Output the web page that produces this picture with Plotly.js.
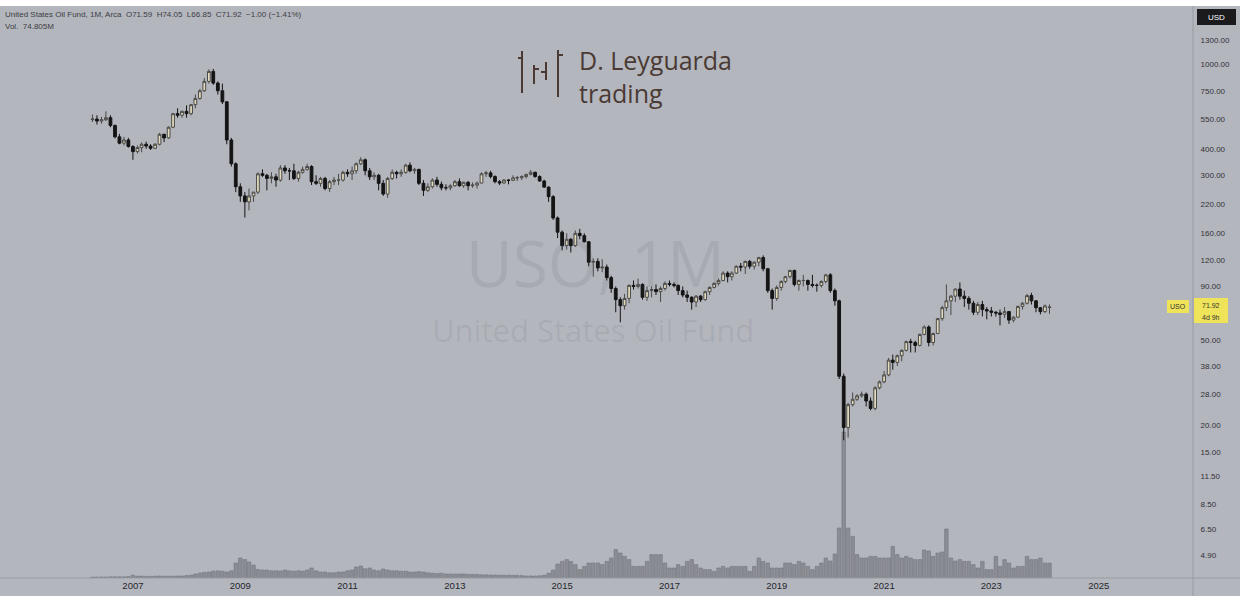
<!DOCTYPE html>
<html><head><meta charset="utf-8">
<script src="https://cdn.plot.ly/plotly-3.0.1.min.js"></script>
<style>html,body{margin:0;padding:0;background:#b4b6be;}#chart{width:1240px;height:596px;}</style>
</head><body><div id="chart"></div>
<script>
// Monthly candles, USO (split-adjusted), Apr 2006 .. Feb 2024
const startYear = 2006, startMonth = 4;
const openP = [
 548,552,540,548,560,515,455,425,440,
 410,388,405,420,412,402,420,468,450,505,585,575,
 600,585,645,690,750,830,925,815,750,665,440,340,
 265,240,225,240,250,305,300,290,295,285,325,315,
 315,290,310,320,330,280,275,290,260,280,285,285,
 310,305,315,340,355,315,295,300,275,245,290,310,
 305,310,335,315,320,275,255,265,285,272,262,262,
 268,280,268,278,268,270,276,305,308,296,280,276,
 285,284,292,292,296,303,310,296,282,264,238,189,
 162,140,150,140,160,156,146,117,118,110,111,99,
 88,78,73,79,91,90,92,80,86,87,85,88,
 93,92,91,86,82,80,76,81,78,85,89,93,
 96,104,100,104,112,111,118,112,117,123,109,86,
 79,89,95,100,107,92,96,96,92,91,91,95,
 102,86,77,34,19.5,25,26.5,27.5,28,26,24,30,
 32,34.5,40.5,39.5,42.5,45,49.5,49,47.5,53.5,58,49,
 54,63.5,71.5,77,81,87.5,81,79,75,68,74,70,
 69,68,67.5,66.5,68.5,62.5,64.5,72.5,75,81.5,77,71.5,
 68.5,71.59];
const highP = [
 580,575,565,600,575,520,470,455,450,
 415,415,428,432,420,425,475,470,510,590,620,605,
 640,650,720,765,860,945,950,830,810,670,450,345,
 275,250,260,250,310,320,305,310,305,335,335,325,
 340,315,330,340,335,300,295,295,285,295,305,315,
 320,330,345,365,360,325,310,305,285,295,320,315,
 320,340,345,325,322,285,275,290,295,280,272,272,
 285,290,280,282,278,280,310,315,315,300,285,288,
 288,300,298,300,305,318,312,300,286,266,242,192,
 165,160,152,165,168,160,147,122,122,121,114,101,
 90,80,83,92,96,98,93,90,90,92,90,95,
 96,94,92,90,86,81,82,82,86,90,94,98,
 106,106,106,113,116,119,120,118,124,126,110,88,
 91,96,101,108,108,97,102,97,102,93,96,103,
 104,88,78,35,25.5,28.5,28,28.8,28.5,27,30.5,32.5,
 36,41.5,43,43,45.5,50,51,50,54,59,59,54.5,
 64,73,92,82,88,94,86,81,77,76,77,72,
 72,69,70,72,69,65,73,76,83,84,77.5,72,
 74,74.05];
const lowP = [
 535,520,525,540,505,448,420,415,405,
 355,380,385,400,395,398,415,430,445,500,560,560,
 560,575,620,680,740,810,800,720,650,420,330,250,
 225,190,205,225,245,295,255,275,265,280,305,285,
 285,280,305,315,270,270,265,255,250,270,270,280,
 295,285,305,335,300,285,285,255,240,235,285,290,
 295,305,310,305,270,240,250,260,265,255,255,255,
 265,265,262,255,262,260,275,295,290,275,270,274,
 272,282,282,285,290,300,292,280,262,225,185,152,
 133,134,130,138,150,145,112,100,106,105,96,84,
 68,61,70,75,87,88,78,77,80,82,76,86,
 90,89,82,80,76,70,72,76,77,82,88,91,
 95,94,96,103,106,103,109,108,112,106,84,70,
 77,86,93,98,90,86,90,86,89,85,89,93,
 84,73,33,17,17.5,24.5,26,27,24.5,23.5,23.5,29.5,
 31.5,34,36.5,38,40,44.5,44,44,47,53,47,47.5,
 54,62,69,66,76,78,72,70,66,66,65,63,
 65,65,59,64,60,61,64,70,74,74,68,66.5,
 67.5,66.85];
const closeP = [
 552,540,548,560,515,455,425,440,410,
 388,405,420,412,402,420,468,450,505,585,575,600,
 585,645,690,750,830,925,815,750,665,440,340,265,
 240,225,240,250,305,300,290,295,285,325,315,315,
 290,310,320,330,280,275,290,260,280,285,285,310,
 305,315,340,355,315,295,300,275,245,290,310,305,
 310,335,315,320,275,255,265,285,272,262,262,268,
 280,268,278,268,270,276,305,308,296,280,276,285,
 284,292,292,296,303,310,296,282,264,238,189,162,
 140,150,140,160,156,146,117,118,110,111,99,88,
 78,73,79,91,90,92,80,86,87,85,88,93,
 92,91,86,82,80,76,81,78,85,89,93,96,
 104,100,104,112,111,118,112,117,123,109,86,79,
 89,95,100,107,92,96,96,92,91,91,95,102,
 86,77,34,19.5,25,26.5,27.5,28,26,24,30,32,
 34.5,40.5,39.5,42.5,45,49.5,49,47.5,53.5,58,49,54,
 63.5,71.5,77,81,87.5,81,79,75,68,74,70,69,
 68,67.5,66.5,68.5,62.5,64.5,72.5,75,81.5,77,71.5,68.5,
 72.9,71.92];
// volume, millions of shares
const volumeM = [
 4,5,5,5,6,6,6,6,7,
 14,9,9,8,8,9,10,9,9,9,10,10,
 12,14,20,25,28,30,34,36,34,30,36,75,
 100,92,80,65,42,40,40,36,36,35,40,36,
 34,36,34,40,50,36,30,30,26,26,30,30,
 36,40,55,60,46,50,40,36,45,40,36,36,
 34,34,30,30,32,30,26,24,22,24,20,20,
 20,20,20,18,18,18,16,16,15,15,14,14,
 14,13,13,12,10,10,10,11,14,24,40,70,
 83,92,83,67,42,58,75,75,75,67,83,100,
 142,125,108,92,58,58,58,83,117,117,117,75,
 50,50,67,58,83,92,67,50,42,42,33,50,
 58,50,58,58,58,58,33,58,100,83,75,50,
 50,50,75,75,67,83,75,58,42,58,75,100,
 85,120,250,730,250,208,117,100,100,108,108,100,
 100,100,158,117,100,108,100,92,92,140,135,108,
 125,130,245,100,85,92,83,83,67,50,83,42,
 42,108,58,92,75,50,58,58,108,92,92,100,
 75,74.8];
const yTickVals = [1300,1000,750,550,400,300,220,160,120,90,50,38,28,20,15,11.5,8.5,6.5,4.9];
const yTickText = ['1300.00','1000.00','750.00','550.00','400.00','300.00','220.00','160.00','120.00','90.00','50.00','38.00','28.00','20.00','15.00','11.50','8.50','6.50','4.90'];
const xTickYears = ['2007','2009','2011','2013','2015','2017','2019','2021','2023','2025'];
const lastPrice = '71.92', countdown = '4d 9h', ticker = 'USO';

const dates = openP.map((_, i) => {
  const m = startMonth - 1 + i;
  const y = startYear + Math.floor(m / 12);
  return y + '-' + String(m % 12 + 1).padStart(2, '0') + '-01';
});

// pixel -> paper helpers (plot area: x 0..1193, y 6..578)
const PW = 1193, PT = 6, PB = 578;
const PX = x => x / PW;
const PY = y => (PB - y) / (PB - PT);

const BG = '#b4b6be';
const brown = '#4a3a33';

const traces = [
  { type: 'bar', x: dates, y: volumeM, yaxis: 'y', xaxis: 'x',
    marker: { color: '#8b8d94', line: { color: '#74767d', width: 0.6 } },
    width: 24 * 86400000, hoverinfo: 'skip' },
  { type: 'candlestick', x: dates, open: openP, high: highP, low: lowP, close: closeP,
    xaxis: 'x', yaxis: 'y2', whiskerwidth: 0,
    increasing: { line: { color: '#4a4a48', width: 1 }, fillcolor: '#e3dbbd' },
    decreasing: { line: { color: '#141414', width: 1 }, fillcolor: '#141414' } }
];

const shapes = [
  { type: 'rect', xref: 'paper', yref: 'paper', x0: PX(0), x1: PX(1240), y0: PY(6), y1: PY(0), fillcolor: '#ffffff', line: { width: 0 } },
  { type: 'line', xref: 'paper', yref: 'paper', x0: PX(1193), x1: PX(1193), y0: PY(596), y1: PY(6), line: { color: '#9a9ca3', width: 1 } },
  { type: 'line', xref: 'paper', yref: 'paper', x0: PX(0), x1: PX(1240), y0: PY(578), y1: PY(578), line: { color: '#9a9ca3', width: 1 } },
  { type: 'rect', xref: 'paper', yref: 'paper', x0: PX(1197), x1: PX(1236), y0: PY(25), y1: PY(9), fillcolor: '#1b1b1e', line: { width: 0 } },
  { type: 'rect', xref: 'paper', yref: 'paper', x0: PX(1167), x1: PX(1189), y0: PY(313), y1: PY(300), fillcolor: '#efe35a', line: { width: 0 } },
  { type: 'rect', xref: 'paper', yref: 'paper', x0: PX(1194), x1: PX(1228), y0: PY(323), y1: PY(298), fillcolor: '#efe35a', line: { width: 0 } },
  // logo glyph
  { type: 'line', xref: 'paper', yref: 'paper', x0: PX(522), x1: PX(522), y0: PY(93), y1: PY(51), line: { color: brown, width: 2 } },
  { type: 'line', xref: 'paper', yref: 'paper', x0: PX(518), x1: PX(522), y0: PY(58), y1: PY(58), line: { color: brown, width: 2 } },
  { type: 'line', xref: 'paper', yref: 'paper', x0: PX(534), x1: PX(534), y0: PY(84), y1: PY(65), line: { color: brown, width: 2 } },
  { type: 'line', xref: 'paper', yref: 'paper', x0: PX(534), x1: PX(539), y0: PY(69), y1: PY(69), line: { color: brown, width: 2 } },
  { type: 'line', xref: 'paper', yref: 'paper', x0: PX(546), x1: PX(546), y0: PY(80), y1: PY(62), line: { color: brown, width: 2 } },
  { type: 'line', xref: 'paper', yref: 'paper', x0: PX(541), x1: PX(546), y0: PY(72), y1: PY(72), line: { color: brown, width: 2 } },
  { type: 'line', xref: 'paper', yref: 'paper', x0: PX(558), x1: PX(558), y0: PY(97), y1: PY(50), line: { color: brown, width: 2 } },
  { type: 'line', xref: 'paper', yref: 'paper', x0: PX(558), x1: PX(563), y0: PY(55), y1: PY(55), line: { color: brown, width: 2 } }
];

const ann = (x, y, text, size, color, extra) => Object.assign({
  xref: 'paper', yref: 'paper', x: PX(x), y: PY(y), text: text, showarrow: false,
  font: { size: size, color: color, family: 'Liberation Sans, Arial, sans-serif' },
  xanchor: 'left', yanchor: 'middle'
}, extra || {});

const wm = 'rgba(70,72,82,0.10)';
const annotations = [
  ann(3, 15, 'United States Oil Fund, 1M, Arca&nbsp;&nbsp;O71.59&nbsp;&nbsp;H74.05&nbsp;&nbsp;L66.85&nbsp;&nbsp;C71.92&nbsp;&nbsp;−1.00 (−1.41%)', 8, '#3c3d42'),
  ann(3, 27, 'Vol.&nbsp;&nbsp;74.805M', 8, '#3c3d42'),
  ann(1216.5, 17, 'USD', 8, '#ffffff', { xanchor: 'center' }),
  ann(1178, 306.5, ticker, 7, '#333333', { xanchor: 'center' }),
  ann(1211, 305, lastPrice, 7, '#333333', { xanchor: 'center' }),
  ann(1211, 317, countdown, 7, '#333333', { xanchor: 'center' }),
  ann(595, 262, 'USO, 1M', 64, wm, { xanchor: 'center', font: { size: 64, color: wm, family: 'Open Sans, sans-serif' } }),
  ann(593, 330, 'United States Oil Fund', 31, wm, { xanchor: 'center', font: { size: 31, color: wm, family: 'Open Sans, sans-serif' } }),
  ann(577, 76, 'D. Leyguarda<br>trading', 25, brown, { align: 'left', font: { size: 25, color: brown, family: 'Open Sans, sans-serif' } })
];

const layout = {
  width: 1240, height: 596,
  margin: { l: 0, r: 47, t: 6, b: 18, pad: 0 },
  paper_bgcolor: BG, plot_bgcolor: BG,
  showlegend: false,
  boxgap: 0.05,
  font: { family: 'Liberation Sans, Arial, sans-serif', color: '#2c2d31' },
  xaxis: {
    type: 'date', range: ['2004-07-10', '2026-10-05'],
    tickvals: xTickYears.map(y => y + '-01-01'), ticktext: xTickYears,
    showgrid: false, zeroline: false, showline: false, ticks: '',
    tickfont: { size: 9.5, color: '#26272b' },
    rangeslider: { visible: false }
  },
  yaxis: { range: [0, 2860], visible: false, showgrid: false, zeroline: false, fixedrange: true },
  yaxis2: {
    overlaying: 'y', side: 'right', type: 'log',
    range: [0.5821, 3.2739],
    tickvals: yTickVals, ticktext: yTickText,
    showgrid: false, zeroline: false, showline: false,
    ticks: 'outside', ticklen: 5, tickcolor: 'rgba(0,0,0,0)',
    tickfont: { size: 8, color: '#303136' }
  },
  shapes: shapes,
  annotations: annotations
};

Plotly.newPlot('chart', traces, layout, { staticPlot: true, displayModeBar: false });
</script>
</body></html>
